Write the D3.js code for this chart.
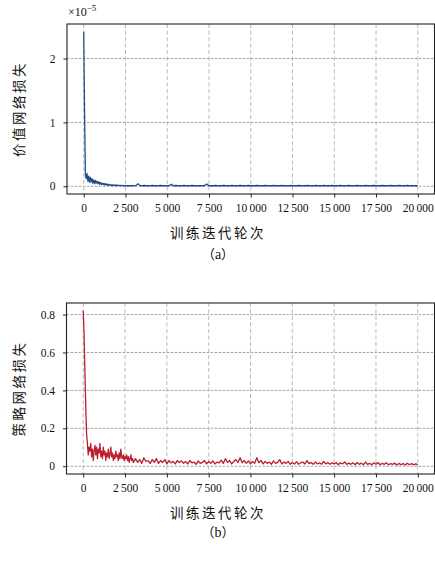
<!DOCTYPE html>
<html>
<head>
<meta charset="utf-8">
<script src="https://cdn.jsdelivr.net/npm/d3@7"></script>
<style>
  body { margin: 0; background: #fff; }
  svg { display: block; }
</style>
</head>
<body>
<script>
// ---- data ----
var xTicks = [0, 2500, 5000, 7500, 10000, 12500, 15000, 17500, 20000];
var valueTicks = [0, 1, 2];
var policyTicks = [0, 0.2, 0.4, 0.6, 0.8];

// iteration positions of the samples
var iterEarly = d3.range(0, 3001, 50);       // 0 .. 3000
var iterLate = d3.range(3125, 20001, 125);   // 3125 .. 20000

// value network loss, in units of 1e-5
var valueEarly = [2.42, 1.2, 0.18, 0.12, 0.20, 0.08, 0.16, 0.06, 0.14, 0.07,
  0.12, 0.05, 0.10, 0.04, 0.09, 0.05, 0.08, 0.04, 0.07, 0.03,
  0.06, 0.03, 0.05, 0.025, 0.045, 0.02, 0.04, 0.02, 0.035, 0.015,
  0.03, 0.015, 0.025, 0.012, 0.025, 0.012, 0.02, 0.01, 0.02, 0.01,
  0.018, 0.01, 0.016, 0.01, 0.015, 0.008, 0.014, 0.008, 0.012, 0.008,
  0.012, 0.008, 0.012, 0.008, 0.01, 0.008, 0.012, 0.008, 0.01, 0.008, 0.01];
var valueLate = [
  0.01, 0.04, 0.01, 0.008, 0.012, 0.008, 0.01, 0.008,
  0.012, 0.008, 0.01, 0.008, 0.012, 0.008, 0.01, 0.008,
  0.01, 0.032, 0.008, 0.012, 0.008, 0.01, 0.008, 0.012,
  0.008, 0.01, 0.008, 0.012, 0.008, 0.01, 0.008, 0.01,
  0.008, 0.012, 0.035, 0.008, 0.01, 0.008, 0.012, 0.008,
  0.01, 0.008, 0.012, 0.008, 0.01, 0.008, 0.012, 0.008,
  0.01, 0.008, 0.012, 0.008, 0.01, 0.008, 0.012, 0.008,
  0.01, 0.008, 0.012, 0.008, 0.01, 0.008, 0.012, 0.008,
  0.01, 0.008, 0.012, 0.008, 0.01, 0.008, 0.012, 0.008,
  0.01, 0.008, 0.012, 0.008, 0.01, 0.008, 0.012, 0.008,
  0.01, 0.008, 0.012, 0.008, 0.01, 0.008, 0.012, 0.008,
  0.01, 0.008, 0.012, 0.008, 0.01, 0.008, 0.012, 0.008,
  0.01, 0.008, 0.012, 0.008, 0.01, 0.008, 0.012, 0.008,
  0.01, 0.008, 0.012, 0.008, 0.01, 0.008, 0.012, 0.008,
  0.01, 0.008, 0.012, 0.008, 0.01, 0.008, 0.012, 0.008,
  0.01, 0.008, 0.012, 0.008, 0.01, 0.008, 0.012, 0.008,
  0.01, 0.008, 0.012, 0.008, 0.01, 0.008, 0.01, 0.008];

// policy network loss
var policyEarly = [0.82, 0.70, 0.50, 0.32, 0.17, 0.12, 0.06, 0.10, 0.08, 0.12,
  0.05, 0.09, 0.03, 0.08, 0.11, 0.06, 0.10, 0.04, 0.09, 0.07,
  0.12, 0.05, 0.08, 0.04, 0.10, 0.06, 0.08, 0.03, 0.07, 0.05,
  0.09, 0.04, 0.06, 0.10, 0.05, 0.07, 0.03, 0.06, 0.04, 0.08,
  0.05, 0.06, 0.03, 0.07, 0.04, 0.09, 0.05, 0.04, 0.06, 0.03,
  0.05, 0.04, 0.06, 0.03, 0.05, 0.02, 0.04, 0.06, 0.03, 0.04, 0.02];
var policyLate = [
  0.04, 0.02, 0.035, 0.015, 0.045, 0.025, 0.03, 0.015,
  0.035, 0.02, 0.04, 0.015, 0.03, 0.02, 0.035, 0.012,
  0.03, 0.018, 0.025, 0.012, 0.03, 0.02, 0.028, 0.015,
  0.025, 0.012, 0.03, 0.018, 0.022, 0.01, 0.028, 0.015,
  0.02, 0.03, 0.012, 0.025, 0.015, 0.028, 0.012, 0.022,
  0.018, 0.032, 0.015, 0.04, 0.02, 0.03, 0.012, 0.025,
  0.035, 0.02, 0.045, 0.018, 0.03, 0.015, 0.028, 0.012,
  0.025, 0.015, 0.045, 0.018, 0.03, 0.012, 0.025, 0.015,
  0.022, 0.01, 0.028, 0.015, 0.02, 0.035, 0.012, 0.022,
  0.015, 0.025, 0.01, 0.02, 0.012, 0.024, 0.01, 0.018,
  0.022, 0.012, 0.03, 0.014, 0.02, 0.01, 0.022, 0.012,
  0.018, 0.01, 0.025, 0.012, 0.02, 0.01, 0.018, 0.012,
  0.02, 0.008, 0.018, 0.012, 0.022, 0.01, 0.016, 0.01,
  0.018, 0.008, 0.02, 0.01, 0.016, 0.008, 0.022, 0.01,
  0.015, 0.008, 0.018, 0.01, 0.02, 0.008, 0.015, 0.01,
  0.018, 0.008, 0.014, 0.01, 0.016, 0.006, 0.015, 0.008,
  0.014, 0.006, 0.016, 0.008, 0.014, 0.007, 0.012, 0.008];

var iters = iterEarly.concat(iterLate);
var valueLoss = valueEarly.concat(valueLate);
var policyLoss = policyEarly.concat(policyLate);

// ---- drawing ----
var size = {width: 435, height: 561};
var numFont = "'Liberation Serif', 'DejaVu Serif', serif";
var cjkFont = "'Noto Sans CJK SC', sans-serif";

var svg = d3.select("body").append("svg")
  .attr("width", size.width)
  .attr("height", size.height);

// thin space as thousands separator: 2 500, 10 000
function fmt(d) {
  var s = String(d);
  if (s.length > 3) s = s.slice(0, s.length - 3) + "\u2009" + s.slice(-3);
  return s;
}

function panel(opt) {
  var x = d3.scaleLinear().domain([-1000, 21000]).range([opt.left, opt.right]);
  var y = d3.scaleLinear().domain(opt.ydomain).range([opt.bottom, opt.top]);
  var g = svg.append("g");

  // grid
  g.selectAll("line.hgrid").data(opt.yticks).enter().append("line")
    .attr("x1", opt.left).attr("x2", opt.right)
    .attr("y1", d => y(d)).attr("y2", d => y(d))
    .attr("stroke", "#8a8a8a").attr("stroke-width", 0.8)
    .attr("stroke-dasharray", "2.5,1.5");
  g.selectAll("line.vgrid").data(xTicks).enter().append("line")
    .attr("x1", d => x(d)).attr("x2", d => x(d))
    .attr("y1", opt.top).attr("y2", opt.bottom)
    .attr("stroke", "#a8a8a8").attr("stroke-width", 0.8)
    .attr("stroke-dasharray", "4,2.5");

  // series
  var line = d3.line().x(d => x(d[0])).y(d => y(d[1]));
  g.append("path")
    .datum(iters.map((t, i) => [t, opt.values[i]]))
    .attr("d", line)
    .attr("fill", "none")
    .attr("stroke", opt.color)
    .attr("stroke-width", 1.3)
    .attr("stroke-linejoin", "round");

  // axes
  var xAxis = d3.axisBottom(x).tickValues(xTicks).tickFormat(fmt).tickSize(3.5).tickPadding(6);
  var gx = g.append("g").attr("transform", "translate(0," + opt.bottom + ")").call(xAxis);
  var yAxis = d3.axisLeft(y).tickValues(opt.yticks).tickFormat(opt.yfmt).tickSize(3.5).tickPadding(8);
  var gy = g.append("g").attr("transform", "translate(" + opt.left + ",0)").call(yAxis);
  [gx, gy].forEach(function(a) {
    a.select(".domain").remove();
    a.selectAll("line").attr("stroke", "#222");
    a.selectAll("text").attr("font-family", numFont).attr("font-size", 11.5).attr("fill", "#111");
  });

  // frame
  g.append("rect")
    .attr("x", opt.left).attr("y", opt.top)
    .attr("width", opt.right - opt.left).attr("height", opt.bottom - opt.top)
    .attr("fill", "none").attr("stroke", "#222").attr("stroke-width", 1.1);

  // labels
  g.append("text")
    .attr("transform", "translate(" + 24 + "," + ((opt.top + opt.bottom) / 2) + ") rotate(-90)")
    .attr("text-anchor", "middle")
    .attr("font-family", cjkFont).attr("font-size", 13.5)
    .attr("letter-spacing", 2.5)
    .attr("fill", "#111")
    .text(opt.ylabel);
  g.append("text")
    .attr("x", 218).attr("y", opt.xlabelY)
    .attr("text-anchor", "middle")
    .attr("font-family", cjkFont).attr("font-size", 13.5)
    .attr("letter-spacing", 2.5)
    .attr("fill", "#111")
    .text("训练迭代轮次");
  var cap = g.append("text")
    .attr("x", 218).attr("y", opt.captionY)
    .attr("text-anchor", "middle")
    .attr("font-family", cjkFont).attr("font-size", 13)
    .attr("fill", "#111");
  cap.append("tspan").text("（");
  cap.append("tspan").attr("font-family", numFont).attr("font-size", 14).text(opt.caption);
  cap.append("tspan").text("）");
  return g;
}

var panelA = panel({
  left: 67, right: 434.5, top: 24, bottom: 194,
  ydomain: [-0.121, 2.541], yticks: valueTicks, yfmt: d3.format("d"),
  values: valueLoss, color: "#1f4e8a",
  ylabel: "价值网络损失", xlabelY: 238, captionY: 259, caption: "a"
});

// offset label
var off = panelA.append("text")
  .attr("x", 68).attr("y", 16)
  .attr("font-family", numFont).attr("font-size", 12).attr("fill", "#111");
off.append("tspan").text("×10");
off.append("tspan").attr("dy", -5).attr("font-size", 9).text("−5");

panel({
  left: 66.5, right: 434.5, top: 303, bottom: 474,
  ydomain: [-0.041, 0.861], yticks: policyTicks, yfmt: d => d === 0 ? "0" : d3.format(".1f")(d),
  values: policyLoss, color: "#bb1f2e",
  ylabel: "策略网络损失", xlabelY: 518, captionY: 537, caption: "b"
});
</script>
</body>
</html>
